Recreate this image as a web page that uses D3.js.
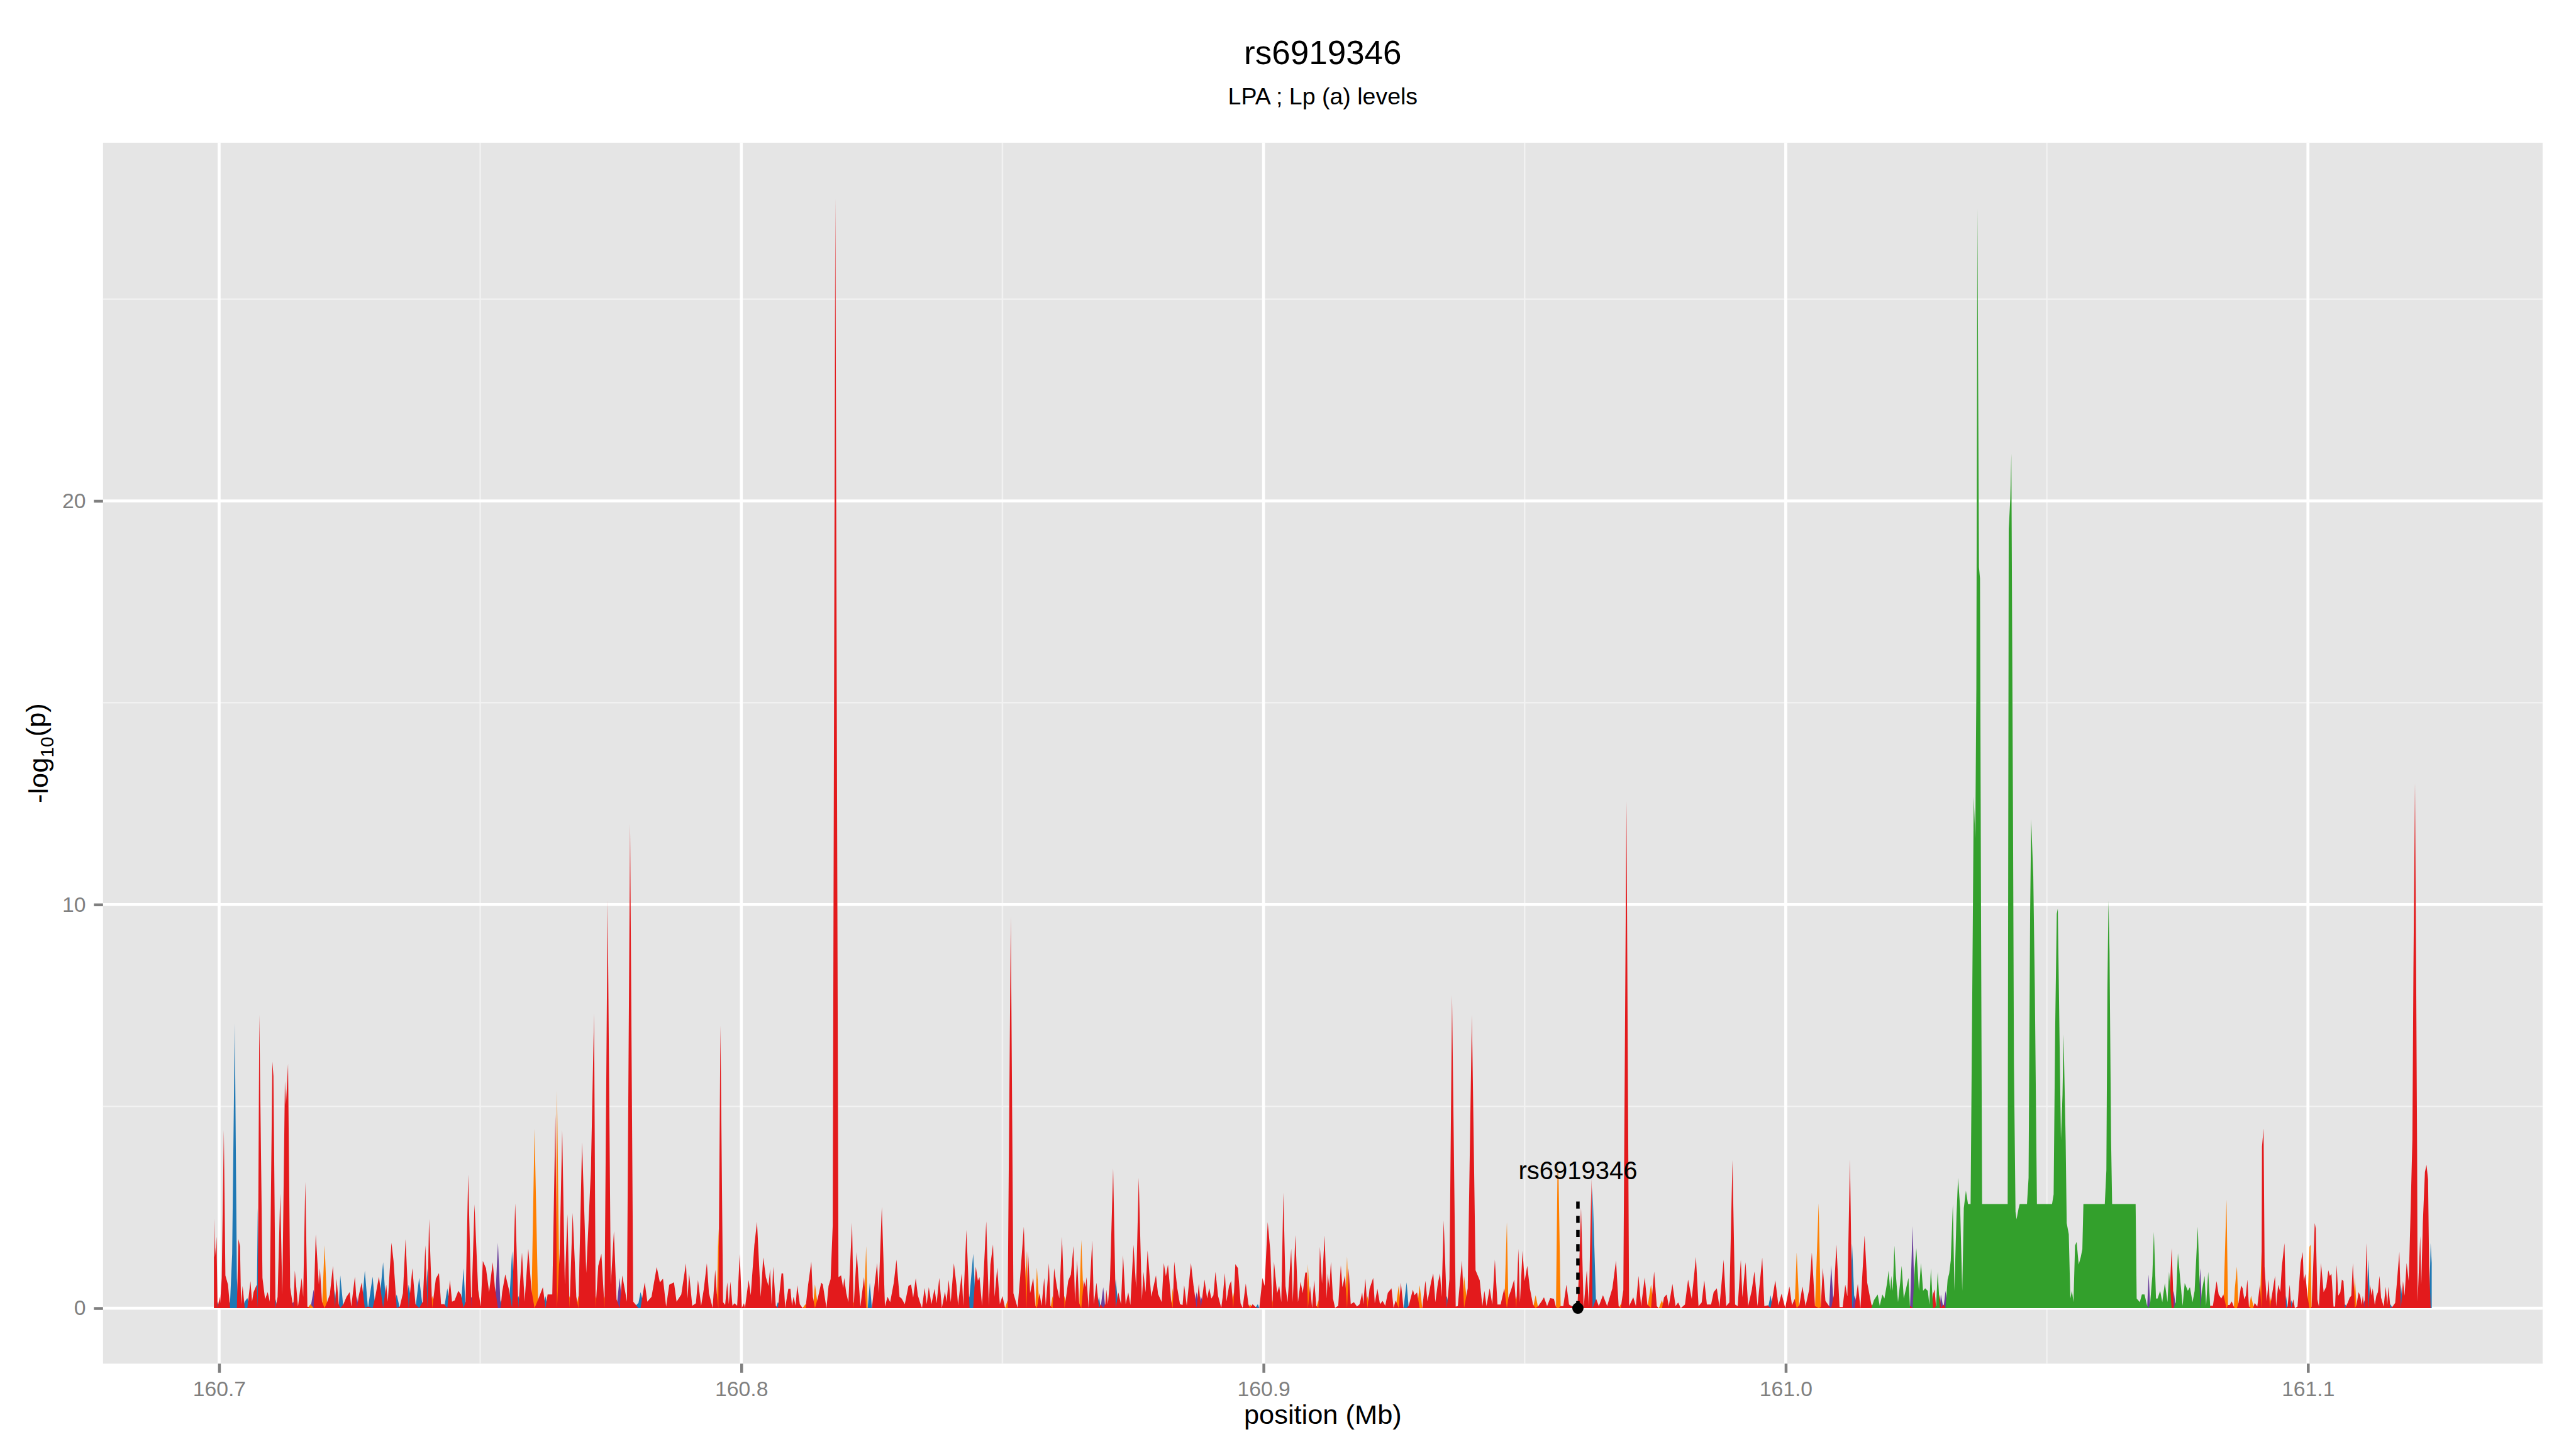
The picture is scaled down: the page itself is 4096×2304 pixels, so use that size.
<!DOCTYPE html>
<html>
<head>
<meta charset="utf-8">
<script src="https://cdn.jsdelivr.net/npm/d3@7"></script>
<style>
  html, body { margin: 0; padding: 0; background: #ffffff; }
  svg { display: block; font-family: "Liberation Sans", Arial, Helvetica, sans-serif; }
</style>
</head>
<body>
<div id="chart-container"></div>
<script>
// LD groups in drawing order, with their fill colours
const ldGroups = ["blue", "purple", "orange", "red", "green"];
const ldColours = ["#1F78B4", "#6A3D9A", "#FF7F00", "#E31A1C", "#33A02C"];

// [position (Mb), -log10(p)] per LD group
const blueSnps = [
  [160.6997, 0.16], [160.7021, 0.16], [160.7025, 1.35], [160.7030, 7.06], [160.7034, 0.75],
  [160.7049, 0.16], [160.7054, 0.25], [160.7074, 2.48], [160.7108, 0.22], [160.7222, 0.46],
  [160.7232, 0.81], [160.7279, 0.93], [160.7294, 0.78], [160.7314, 1.14], [160.7340, 0.34],
  [160.7363, 0.58], [160.7383, 0.75], [160.7399, 0.99], [160.7437, 0.49], [160.7468, 0.99],
  [160.7539, 0.2], [160.7561, 1.41], [160.7573, 0.3], [160.7625, 0.3], [160.7803, 0.13],
  [160.7807, 0.40], [160.8070, 0.15], [160.8246, 0.63], [160.8437, 0.3], [160.8444, 1.35],
  [160.8685, 0.28], [160.8717, 0.72], [160.8989, 0.1], [160.9274, 0.64], [160.9351, 0.3],
  [160.9630, 3.0], [160.9971, 0.32], [161.0127, 1.6], [161.0958, 0.31], [161.0968, 0.2],
  [161.1071, 0.1], [161.1116, 1.21], [161.1158, 0.1], [161.1178, 0.6], [161.1235, 1.61],
  [161.1237, 1.12]
];

const purpleSnps = [
  [160.7142, 0.16], [160.7181, 0.46], [160.7264, 0.3], [160.7483, 0.28], [160.7534, 1.62],
  [160.7767, 0.75], [160.8693, 0.52], [160.8872, 0.4], [160.8880, 0.3], [161.0087, 1.07],
  [161.0132, 0.32], [161.0243, 2.04], [161.0297, 0.34], [161.0306, 0.43], [161.0695, 0.84],
  [161.0743, 0.43], [161.0794, 0.99], [161.1108, 0.2]
];

const orangeSnps = [
  [160.7175, 0.10], [160.7202, 1.56], [160.7408, 0.3], [160.7604, 4.44], [160.7647, 5.39],
  [160.7671, 0.3], [160.7688, 0.3], [160.7721, 0.3], [160.7738, 0.3], [160.7956, 1.97],
  [160.8123, 0.1], [160.8141, 0.59], [160.8215, 0.15], [160.8239, 1.54], [160.8510, 0.2],
  [160.8546, 1.42], [160.8566, 1.01], [160.8596, 0.3], [160.8619, 0.3], [160.8651, 1.69],
  [160.8826, 0.5], [160.8942, 0.4], [160.8974, 0.1], [160.9017, 0.2], [160.9085, 1.09],
  [160.9105, 0.2], [160.9160, 1.28], [160.9199, 0.3], [160.9259, 0.57], [160.9299, 0.57],
  [160.9384, 0.80], [160.9466, 2.13], [160.9484, 0.3], [160.9521, 0.32], [160.9563, 3.53],
  [160.9565, 3.22], [160.9684, 0.1], [160.9742, 0.58], [160.9763, 0.20], [161.0021, 1.38],
  [161.0063, 2.60], [161.0844, 2.69], [161.0860, 0.49], [161.0864, 1.03], [161.0891, 0.31],
  [161.0895, 0.08], [161.0911, 1.39], [161.0927, 0.31], [161.1003, 1.52], [161.1005, 1.57],
  [161.1090, 0.76]
];

const redSnps = [
  [160.6990, 2.22], [160.6992, 1.26], [160.6995, 1.77], [160.7001, 0.28], [160.7002, 0.13],
  [160.7005, 0.75], [160.7009, 4.41], [160.7012, 0.81], [160.7017, 0.58], [160.7037, 1.71],
  [160.7040, 1.53], [160.7042, 0.10], [160.7045, 0.55], [160.7060, 0.67], [160.7063, 0.16],
  [160.7066, 0.40], [160.7072, 0.58], [160.7077, 7.27], [160.7083, 0.75], [160.7088, 0.22],
  [160.7093, 0.40], [160.7097, 0.16], [160.7102, 6.11], [160.7104, 5.75], [160.7112, 0.28],
  [160.7117, 2.84], [160.7121, 0.34], [160.7126, 5.63], [160.7128, 5.04], [160.7132, 6.05],
  [160.7136, 0.52], [160.7145, 0.93], [160.7151, 0.04], [160.7158, 0.75], [160.7161, 0.28],
  [160.7165, 3.13], [160.7169, 0.04], [160.7185, 1.83], [160.7191, 0.58], [160.7193, 0.99],
  [160.7197, 0.16], [160.7207, 0.16], [160.7212, 0.34], [160.7218, 1.05], [160.7225, 0.73],
  [160.7229, 0.10], [160.7238, 0.10], [160.7244, 0.28], [160.7250, 0.40], [160.7253, 0.04],
  [160.7260, 0.78], [160.7267, 0.28], [160.7273, 0.64], [160.7285, 0.04], [160.7299, 0.28],
  [160.7306, 0.78], [160.7320, 0.58], [160.7323, 0.16], [160.7330, 1.62], [160.7334, 1.17],
  [160.7346, 0.04], [160.7352, 0.37], [160.7357, 1.71], [160.7370, 0.99], [160.7376, 0.10],
  [160.7390, 0.16], [160.7395, 1.56], [160.7402, 2.21], [160.7415, 0.73], [160.7421, 0.87],
  [160.7425, 0.10], [160.7431, 0.10], [160.7442, 0.70], [160.7446, 0.16], [160.7451, 0.19],
  [160.7458, 0.43], [160.7463, 0.34], [160.7472, 0.16], [160.7477, 3.31], [160.7489, 2.57],
  [160.7496, 0.46], [160.7501, 0.04], [160.7505, 1.17], [160.7511, 0.99], [160.7517, 0.40],
  [160.7524, 1.14], [160.7528, 0.52], [160.7542, 0.40], [160.7548, 0.84], [160.7555, 0.46],
  [160.7567, 2.60], [160.7580, 1.38], [160.7585, 0.16], [160.7592, 1.47], [160.7598, 0.46],
  [160.7611, 0.22], [160.7620, 0.52], [160.7629, 0.34], [160.7638, 0.34], [160.7644, 4.80],
  [160.7652, 1.35], [160.7657, 4.41], [160.7662, 0.58], [160.7667, 2.33], [160.7677, 2.36],
  [160.7684, 0.28], [160.7695, 4.11], [160.7703, 0.87], [160.7712, 3.43], [160.7718, 7.30],
  [160.7726, 1.05], [160.7732, 1.35], [160.7744, 10.1], [160.7750, 0.58], [160.7756, 1.91],
  [160.7761, 0.22], [160.7772, 0.81], [160.7781, 0.16], [160.7787, 12.0], [160.7793, 0.16],
  [160.7815, 0.64], [160.7820, 0.16], [160.7828, 0.28], [160.7838, 1.02], [160.7844, 0.64],
  [160.7850, 0.73], [160.7856, 0.04], [160.7862, 0.58], [160.7871, 0.64], [160.7876, 0.16],
  [160.7885, 0.34], [160.7894, 1.11], [160.7897, 0.24], [160.7900, 0.86], [160.7906, 0.06],
  [160.7913, 0.12], [160.7917, 0.70], [160.7923, 0.06], [160.7928, 0.46], [160.7934, 1.11],
  [160.7938, 0.37], [160.7945, 0.01], [160.7950, 0.95], [160.7953, 0.37], [160.7960, 7.0],
  [160.7965, 0.15], [160.7969, 0.08], [160.7973, 0.64], [160.7976, 0.10], [160.7979, 0.66],
  [160.7983, 0.06], [160.7987, 0.12], [160.7992, 0.06], [160.7997, 1.34], [160.8001, 0.01],
  [160.8005, 0.12], [160.8007, 0.01], [160.8014, 0.70], [160.8018, 0.32], [160.8025, 1.57],
  [160.8030, 2.14], [160.8037, 0.28], [160.8042, 1.26], [160.8047, 0.77], [160.8052, 0.55],
  [160.8055, 0.97], [160.8058, 0.10], [160.8061, 1.03], [160.8066, 0.06], [160.8077, 0.86],
  [160.8080, 0.86], [160.8084, 0.01], [160.8090, 0.48], [160.8094, 0.48], [160.8097, 0.06],
  [160.8100, 0.28], [160.8104, 0.06], [160.8107, 0.57], [160.8112, 0.10], [160.8117, 0.01],
  [160.8128, 0.59], [160.8134, 1.15], [160.8137, 0.28], [160.8147, 0.28], [160.8153, 0.63],
  [160.8156, 0.59], [160.8163, 0.00], [160.8167, 0.55], [160.8171, 0.72], [160.8175, 2.05],
  [160.8180, 27.5], [160.8186, 0.77], [160.8191, 0.81], [160.8195, 0.50], [160.8197, 0.75],
  [160.8201, 0.37], [160.8205, 0.15], [160.8212, 2.12], [160.8221, 1.39], [160.8228, 0.04],
  [160.8235, 0.77], [160.8242, 0.01], [160.8250, 0.01], [160.8260, 1.12], [160.8263, 0.37],
  [160.8269, 2.51], [160.8275, 0.04], [160.8280, 0.28], [160.8285, 0.15], [160.8292, 0.63],
  [160.8297, 1.20], [160.8303, 0.28], [160.8307, 0.24], [160.8313, 0.10], [160.8320, 0.55],
  [160.8325, 0.59], [160.8329, 0.26], [160.8334, 0.74], [160.8338, 0.32], [160.8342, 0.15],
  [160.8346, 0.01], [160.8351, 0.50], [160.8355, 0.10], [160.8359, 0.52], [160.8364, 0.10],
  [160.8370, 0.48], [160.8374, 0.12], [160.8379, 0.75], [160.8384, 0.01], [160.8390, 0.41],
  [160.8393, 0.15], [160.8397, 0.70], [160.8401, 0.15], [160.8407, 1.11], [160.8412, 0.57],
  [160.8415, 0.08], [160.8422, 0.86], [160.8425, 0.06], [160.8431, 1.94], [160.8449, 1.03],
  [160.8453, 0.68], [160.8456, 0.77], [160.8461, 0.06], [160.8469, 2.15], [160.8474, 0.06],
  [160.8477, 1.08], [160.8482, 1.58], [160.8485, 0.28], [160.8490, 1.01], [160.8495, 0.10],
  [160.8500, 0.30], [160.8505, 0.01], [160.8516, 9.7], [160.8521, 0.37], [160.8529, 0.01],
  [160.8534, 0.79], [160.8541, 2.02], [160.8549, 1.41], [160.8553, 0.37], [160.8559, 0.75],
  [160.8563, 0.06], [160.8571, 0.37], [160.8575, 0.06], [160.8580, 0.75], [160.8583, 0.06],
  [160.8589, 1.11], [160.8592, 0.06], [160.8599, 0.99], [160.8604, 0.55], [160.8609, 0.24],
  [160.8614, 1.77], [160.8624, 0.48], [160.8626, 0.68], [160.8631, 0.83], [160.8636, 1.54],
  [160.8639, 0.15], [160.8643, 1.19], [160.8647, 0.12], [160.8656, 0.70], [160.8659, 0.52],
  [160.8661, 0.77], [160.8665, 0.01], [160.8672, 1.68], [160.8675, 0.10], [160.8680, 0.63],
  [160.8688, 0.10], [160.8697, 0.10], [160.8699, 0.46], [160.8702, 0.10], [160.8706, 0.72],
  [160.8712, 3.46], [160.8722, 0.39], [160.8727, 0.10], [160.8731, 1.31], [160.8736, 0.10],
  [160.8741, 0.39], [160.8745, 0.08], [160.8751, 1.57], [160.8756, 0.50], [160.8761, 3.23],
  [160.8767, 0.19], [160.8770, 0.90], [160.8774, 0.39], [160.8778, 1.43], [160.8785, 0.28],
  [160.8794, 0.81], [160.8798, 0.35], [160.8805, 0.15], [160.8809, 1.12], [160.8813, 0.79],
  [160.8817, 1.08], [160.8823, 0.19], [160.8829, 1.15], [160.8835, 0.48], [160.8840, 0.10],
  [160.8845, 0.08], [160.8848, 0.57], [160.8853, 0.06], [160.8861, 1.12], [160.8866, 0.55],
  [160.8876, 0.61], [160.8887, 0.71], [160.8892, 0.24], [160.8896, 0.50], [160.8900, 0.24],
  [160.8904, 0.32], [160.8908, 0.90], [160.8913, 0.30], [160.8919, 0.01], [160.8922, 0.30],
  [160.8926, 0.87], [160.8929, 0.17], [160.8934, 0.55], [160.8938, 0.68], [160.8946, 1.09],
  [160.8951, 0.99], [160.8956, 0.12], [160.8960, 0.01], [160.8966, 0.61], [160.8971, 0.10],
  [160.8979, 0.10], [160.8984, 0.04], [160.8992, 0.01], [160.8998, 0.75], [160.9002, 0.55],
  [160.9008, 2.13], [160.9013, 1.41], [160.9020, 1.15], [160.9026, 0.37], [160.9030, 0.55],
  [160.9034, 0.15], [160.9038, 2.86], [160.9042, 0.55], [160.9046, 0.15], [160.9053, 1.47],
  [160.9056, 0.15], [160.9061, 1.81], [160.9066, 0.15], [160.9071, 0.66], [160.9075, 0.37],
  [160.9080, 0.88], [160.9083, 0.88], [160.9089, 0.55], [160.9093, 0.01], [160.9097, 0.70],
  [160.9101, 0.06], [160.9108, 1.52], [160.9112, 0.61], [160.9117, 1.80], [160.9121, 0.24],
  [160.9123, 0.86], [160.9126, 0.50], [160.9129, 1.15], [160.9133, 0.24], [160.9137, 0.01],
  [160.9143, 0.06], [160.9148, 1.06], [160.9151, 0.52], [160.9156, 0.81], [160.9163, 0.99],
  [160.9167, 0.10], [160.9173, 0.15], [160.9179, 0.04], [160.9184, 0.10], [160.9189, 0.39],
  [160.9191, 0.10], [160.9195, 0.73], [160.9203, 0.48], [160.9210, 0.75], [160.9213, 0.12],
  [160.9218, 0.48], [160.9223, 0.10], [160.9228, 0.18], [160.9233, 0.06], [160.9238, 0.38],
  [160.9245, 0.49], [160.9249, 0.01], [160.9253, 0.19], [160.9263, 0.63], [160.9268, 0.01],
  [160.9278, 0.06], [160.9286, 0.46], [160.9289, 0.32], [160.9294, 0.39], [160.9304, 0.01],
  [160.9310, 0.68], [160.9314, 0.17], [160.9321, 0.66], [160.9325, 0.86], [160.9329, 0.15],
  [160.9334, 0.63], [160.9338, 0.86], [160.9341, 0.28], [160.9345, 2.17], [160.9356, 0.72],
  [160.9361, 7.75], [160.9368, 0.04], [160.9372, 0.05], [160.9380, 1.18], [160.9391, 0.49],
  [160.9399, 7.26], [160.9406, 0.94], [160.9414, 0.69], [160.9419, 0.05], [160.9423, 0.43],
  [160.9427, 0.05], [160.9433, 0.49], [160.9438, 0.09], [160.9443, 1.20], [160.9448, 0.09],
  [160.9454, 0.09], [160.9461, 0.49], [160.9469, 0.27], [160.9474, 0.45], [160.9480, 0.71],
  [160.9488, 1.47], [160.9491, 0.14], [160.9496, 1.42], [160.9500, 0.67], [160.9505, 1.05],
  [160.9510, 0.49], [160.9516, 0.09], [160.9526, 0.05], [160.9532, 0.16], [160.9537, 0.27],
  [160.9543, 0.05], [160.9549, 0.25], [160.9556, 0.23], [160.9560, 0.03], [160.9569, 0.05],
  [160.9574, 0.05], [160.9580, 0.58], [160.9585, 0.09], [160.9590, 0.05], [160.9596, 0.03],
  [160.9601, 0.02], [160.9604, 0.87], [160.9608, 2.49], [160.9613, 0.00], [160.9619, 0.94],
  [160.9623, 0.05], [160.9628, 3.22], [160.9637, 0.23], [160.9642, 0.05], [160.9650, 0.32],
  [160.9658, 0.05], [160.9668, 0.49], [160.9675, 1.18], [160.9680, 0.05], [160.9689, 0.45],
  [160.9695, 12.56], [160.9700, 0.05], [160.9708, 0.27], [160.9713, 0.05], [160.9718, 0.80],
  [160.9723, 0.05], [160.9730, 0.76], [160.9735, 0.09], [160.9748, 0.91], [160.9753, 0.05],
  [160.9757, 0.00], [160.9767, 0.27], [160.9772, 0.34], [160.9776, 0.05], [160.9783, 0.60],
  [160.9789, 0.05], [160.9794, 0.14], [160.9799, 0.00], [160.9807, 0.09], [160.9813, 0.71],
  [160.9820, 0.23], [160.9828, 1.27], [160.9833, 0.05], [160.9839, 0.14], [160.9844, 0.69],
  [160.9849, 0.09], [160.9857, 0.09], [160.9862, 0.40], [160.9868, 0.49], [160.9873, 0.03],
  [160.9881, 1.20], [160.9886, 0.05], [160.9892, 0.14], [160.9898, 3.67], [160.9903, 0.09],
  [160.9908, 0.05], [160.9914, 1.20], [160.9917, 0.27], [160.9923, 1.14], [160.9928, 0.05],
  [160.9935, 0.45], [160.9940, 0.91], [160.9946, 0.05], [160.9955, 1.25], [160.9959, 0.05],
  [160.9966, 0.07], [160.9975, 0.29], [160.9980, 0.69], [160.9986, 0.07], [160.9992, 0.36],
  [160.9999, 0.00], [161.0007, 0.54], [161.0012, 0.07], [161.0017, 0.23], [161.0026, 0.07],
  [161.0032, 0.54], [161.0038, 0.05], [161.0045, 0.47], [161.0050, 1.38], [161.0056, 0.05],
  [161.0067, 0.03], [161.0071, 1.00], [161.0076, 0.18], [161.0083, 0.05], [161.0092, 0.32],
  [161.0097, 1.58], [161.0103, 0.03], [161.0109, 0.03], [161.0114, 0.58], [161.0118, 0.29],
  [161.0123, 3.69], [161.0138, 0.60], [161.0143, 0.00], [161.0151, 1.80], [161.0156, 0.63],
  [161.0164, 0.09], [161.0238, 0.06], [161.0282, 0.34], [161.0285, 0.47], [161.0295, 0.34],
  [161.0302, 0.09], [161.0739, 1.49], [161.0813, 0.06], [161.0818, 0.06], [161.0825, 0.67],
  [161.0829, 0.34], [161.0834, 0.24], [161.0838, 0.34], [161.0847, 0.08], [161.0850, 0.08],
  [161.0854, 0.17], [161.0858, 0.04], [161.0867, 0.13], [161.0872, 0.56], [161.0875, 0.49],
  [161.0878, 0.22], [161.0881, 0.31], [161.0884, 0.71], [161.0887, 0.04], [161.0898, 0.13],
  [161.0903, 0.04], [161.0908, 0.58], [161.0912, 4.00], [161.0915, 4.45], [161.0917, 1.03],
  [161.0921, 0.17], [161.0925, 0.71], [161.0932, 0.40], [161.0937, 0.80], [161.0939, 0.04],
  [161.0943, 0.58], [161.0947, 0.40], [161.0950, 1.03], [161.0955, 1.61], [161.0961, 0.04],
  [161.0965, 0.58], [161.0972, 0.22], [161.0975, 0.00], [161.0980, 0.04], [161.0986, 1.12],
  [161.0990, 1.39], [161.0992, 0.67], [161.0995, 0.85], [161.0999, 0.31], [161.1007, 0.04],
  [161.1010, 1.03], [161.1013, 2.11], [161.1015, 1.97], [161.1018, 0.22], [161.1021, 0.04],
  [161.1025, 1.12], [161.1030, 0.40], [161.1035, 0.53], [161.1039, 0.94], [161.1042, 0.80],
  [161.1045, 0.85], [161.1049, 0.04], [161.1052, 0.04], [161.1055, 1.07], [161.1058, 0.31],
  [161.1062, 0.40], [161.1065, 0.71], [161.1068, 0.67], [161.1076, 0.13], [161.1080, 0.26],
  [161.1083, 0.31], [161.1086, 1.12], [161.1093, 0.08], [161.1097, 0.40], [161.1100, 0.31],
  [161.1103, 0.08], [161.1105, 0.31], [161.1110, 0.49], [161.1112, 1.61], [161.1119, 0.58],
  [161.1122, 0.31], [161.1124, 0.49], [161.1128, 0.08], [161.1131, 0.31], [161.1134, 0.40],
  [161.1137, 0.80], [161.1140, 0.26], [161.1145, 0.04], [161.1149, 0.53], [161.1152, 0.08],
  [161.1154, 0.53], [161.1162, 0.04], [161.1167, 0.13], [161.1170, 0.58], [161.1175, 1.39],
  [161.1182, 0.67], [161.1185, 0.31], [161.1189, 1.12], [161.1193, 0.67], [161.1196, 2.11],
  [161.1200, 4.18], [161.1202, 8.41], [161.1205, 13.0], [161.1207, 8.77], [161.1209, 3.91],
  [161.1210, 0.17], [161.1215, 1.79], [161.1217, 0.58], [161.1220, 2.11], [161.1224, 3.37],
  [161.1227, 3.55], [161.1230, 3.19], [161.1232, 1.07]
];

const greenSnps = [
  [161.0169, 0.2], [161.0176, 0.34], [161.0180, 0.06], [161.0185, 0.34], [161.0189, 0.24],
  [161.0194, 0.62], [161.0197, 0.93], [161.0200, 0.43], [161.0202, 0.80], [161.0205, 0.43],
  [161.0208, 1.55], [161.0211, 0.80], [161.0215, 0.15], [161.0219, 0.62], [161.0222, 1.05],
  [161.0226, 0.24], [161.0231, 0.52], [161.0235, 0.75], [161.0247, 0.99], [161.0250, 1.49],
  [161.0255, 0.43], [161.0259, 1.12], [161.0263, 0.43], [161.0267, 0.49], [161.0272, 0.43],
  [161.0275, 0.09], [161.0278, 0.99], [161.0288, 0.06], [161.0291, 0.90], [161.0310, 0.71],
  [161.0313, 0.86], [161.0316, 1.18], [161.0320, 2.58], [161.0323, 0.43], [161.0327, 2.30],
  [161.0330, 3.23], [161.0334, 2.48], [161.0338, 0.43], [161.0341, 2.48], [161.0345, 2.91],
  [161.0349, 2.58], [161.0354, 2.58], [161.0358, 9.21], [161.0360, 12.67], [161.0363, 11.64],
  [161.0365, 15.37], [161.0367, 27.24], [161.0370, 18.36], [161.0372, 18.08], [161.0374, 9.58],
  [161.0376, 2.58], [161.0425, 2.58], [161.0427, 19.30], [161.0430, 20.05], [161.0432, 21.17],
  [161.0435, 12.76], [161.0437, 6.03], [161.0440, 2.39], [161.0442, 2.20], [161.0446, 2.48],
  [161.0448, 2.58], [161.0462, 2.58], [161.0465, 3.23], [161.0468, 9.77], [161.0470, 12.11],
  [161.0474, 10.71], [161.0477, 7.90], [161.0481, 2.58], [161.0510, 2.58], [161.0513, 2.82],
  [161.0516, 6.97], [161.0519, 9.77], [161.0521, 9.90], [161.0524, 6.97], [161.0527, 4.17],
  [161.0530, 5.29], [161.0532, 6.78], [161.0536, 4.17], [161.0538, 2.11], [161.0542, 1.83],
  [161.0545, 0.24], [161.0548, 0.43], [161.0551, 0.15], [161.0554, 1.55], [161.0557, 1.64],
  [161.0561, 1.08], [161.0565, 1.27], [161.0568, 1.46], [161.0570, 2.58], [161.0611, 2.58],
  [161.0614, 3.42], [161.0616, 7.90], [161.0618, 10.09], [161.0620, 8.84], [161.0623, 4.17],
  [161.0625, 2.58], [161.0670, 2.58], [161.0672, 0.24], [161.0678, 0.15], [161.0682, 0.34],
  [161.0687, 0.34], [161.0692, 0.06], [161.0698, 0.15], [161.0702, 0.80], [161.0705, 1.89],
  [161.0709, 0.24], [161.0712, 0.24], [161.0717, 0.43], [161.0721, 0.15], [161.0726, 0.62],
  [161.0731, 0.15], [161.0734, 0.90], [161.0747, 0.15], [161.0751, 1.36], [161.0756, 0.62],
  [161.0760, 0.06], [161.0764, 0.62], [161.0770, 0.43], [161.0774, 0.52], [161.0779, 0.15],
  [161.0783, 0.43], [161.0789, 2.02], [161.0797, 0.43], [161.0802, 0.80], [161.0805, 0.06],
  [161.0809, 0.90]
];

// axis ticks and texts
const xTicks = [160.7, 160.8, 160.9, 161.0, 161.1];
const xTickLabels = ["160.7", "160.8", "160.9", "161.0", "161.1"];
const xMinorTicks = [160.75, 160.85, 160.95, 161.05];
const yTicks = [0, 10, 20];
const yMinorTicks = [5, 15, 25];
const chartTitle = "rs6919346";
const chartSubtitle = "LPA ; Lp (a) levels";
const xTitle = "position (Mb)";

// lead SNP annotation
const leadSnp = "rs6919346";
const leadPos = 160.9602;
const leadLineTop = 2.73;
const leadLabelAt = 3.2;

function drawChart() {
  const width = 4096;
  const height = 2304;
  const panel = { left: 163.8, top: 226.9, right: 4042.9, bottom: 2168.3 };
  const grey = "#7F7F7F";

  const seriesByGroup = {
    blue: blueSnps, purple: purpleSnps, orange: orangeSnps, red: redSnps, green: greenSnps
  };
  const snps = ldGroups
    .flatMap((g) => seriesByGroup[g].map(([pos, logp]) => ({ pos, logp, g })))
    .sort((a, b) => a.pos - b.pos);

  const xExtent = d3.extent(snps, (d) => d.pos);
  const xPad = (xExtent[1] - xExtent[0]) * 0.05;
  const x = d3.scaleLinear()
    .domain([xExtent[0] - xPad, xExtent[1] + xPad])
    .range([panel.left, panel.right]);

  const yMax = d3.max(snps, (d) => d.logp);
  const yPad = yMax * 0.05;
  const y = d3.scaleLinear()
    .domain([-yPad, yMax + yPad])
    .range([panel.bottom, panel.top]);

  const svg = d3.select("#chart-container")
    .append("svg")
    .attr("width", width)
    .attr("height", height)
    .style("background-color", "#ffffff");

  svg.append("rect")
    .attr("x", panel.left)
    .attr("y", panel.top)
    .attr("width", panel.right - panel.left)
    .attr("height", panel.bottom - panel.top)
    .attr("fill", "#E5E5E5");

  // grid
  const grid = svg.append("g");
  grid.selectAll(".xminor").data(xMinorTicks).join("line")
    .attr("x1", (d) => x(d)).attr("x2", (d) => x(d))
    .attr("y1", panel.top).attr("y2", panel.bottom)
    .attr("stroke", "#F2F2F2").attr("stroke-width", 2.4);
  grid.selectAll(".yminor").data(yMinorTicks).join("line")
    .attr("x1", panel.left).attr("x2", panel.right)
    .attr("y1", (d) => y(d)).attr("y2", (d) => y(d))
    .attr("stroke", "#F2F2F2").attr("stroke-width", 2.4);
  grid.selectAll(".xmajor").data(xTicks).join("line")
    .attr("x1", (d) => x(d)).attr("x2", (d) => x(d))
    .attr("y1", panel.top).attr("y2", panel.bottom)
    .attr("stroke", "#ffffff").attr("stroke-width", 4.7);
  grid.selectAll(".ymajor").data(yTicks).join("line")
    .attr("x1", panel.left).attr("x2", panel.right)
    .attr("y1", (d) => y(d)).attr("y2", (d) => y(d))
    .attr("stroke", "#ffffff").attr("stroke-width", 4.7);

  // one area per LD group; SNPs of other groups count as zero
  ldGroups.forEach((g, i) => {
    const area = d3.area()
      .x((d) => x(d.pos))
      .y0(y(0))
      .y1((d) => y(d.g === g ? d.logp : 0));
    svg.append("path")
      .datum(snps)
      .attr("fill", ldColours[i])
      .attr("d", area);
  });

  // axes
  const xAxis = svg.append("g")
    .attr("transform", `translate(0,${panel.bottom})`)
    .call(d3.axisBottom(x).tickValues(xTicks)
      .tickFormat((d, i) => xTickLabels[i]).tickSize(14.5).tickPadding(12.8));
  const yAxis = svg.append("g")
    .attr("transform", `translate(${panel.left},0)`)
    .call(d3.axisLeft(y).tickValues(yTicks).tickFormat(d3.format("d"))
      .tickSize(14.5).tickPadding(12.8));

  [xAxis, yAxis].forEach((ax) => {
    ax.select(".domain").remove();
    ax.selectAll(".tick line").attr("stroke", grey).attr("stroke-width", 4.5);
    ax.selectAll("text")
      .attr("fill", grey)
      .style("font-size", "33.7px")
      .style("font-family", "'Liberation Sans', Arial, Helvetica, sans-serif");
  });

  const midX = (panel.left + panel.right) / 2;
  const midY = (panel.top + panel.bottom) / 2;

  svg.append("text")
    .attr("x", midX).attr("y", 102.4)
    .attr("text-anchor", "middle")
    .style("font-size", "53px")
    .text(chartTitle);

  svg.append("text")
    .attr("x", midX).attr("y", 165.5)
    .attr("text-anchor", "middle")
    .style("font-size", "37.5px")
    .text(chartSubtitle);

  svg.append("text")
    .attr("x", midX).attr("y", 2264)
    .attr("text-anchor", "middle")
    .style("font-size", "43.4px")
    .text(xTitle);

  const yTitle = svg.append("text")
    .attr("transform", `translate(76,${midY}) rotate(-90)`)
    .attr("text-anchor", "middle")
    .style("font-size", "43.4px");
  yTitle.append("tspan").text("-log");
  yTitle.append("tspan").attr("dy", "0.3em").style("font-size", "30px").text("10");
  yTitle.append("tspan").attr("dy", "-0.3em").text("(p)");

  // lead SNP marker
  svg.append("line")
    .attr("x1", x(leadPos)).attr("x2", x(leadPos))
    .attr("y1", y(0)).attr("y2", y(leadLineTop))
    .attr("stroke", "#000000")
    .attr("stroke-width", 5.5)
    .attr("stroke-dasharray", "11.3,11.3");

  svg.append("circle")
    .attr("cx", x(leadPos)).attr("cy", y(0))
    .attr("r", 9)
    .attr("fill", "#000000");

  svg.append("text")
    .attr("x", x(leadPos)).attr("y", y(leadLabelAt))
    .attr("text-anchor", "middle")
    .style("font-size", "40px")
    .text(leadSnp);
}

drawChart();
</script>
</body>
</html>
